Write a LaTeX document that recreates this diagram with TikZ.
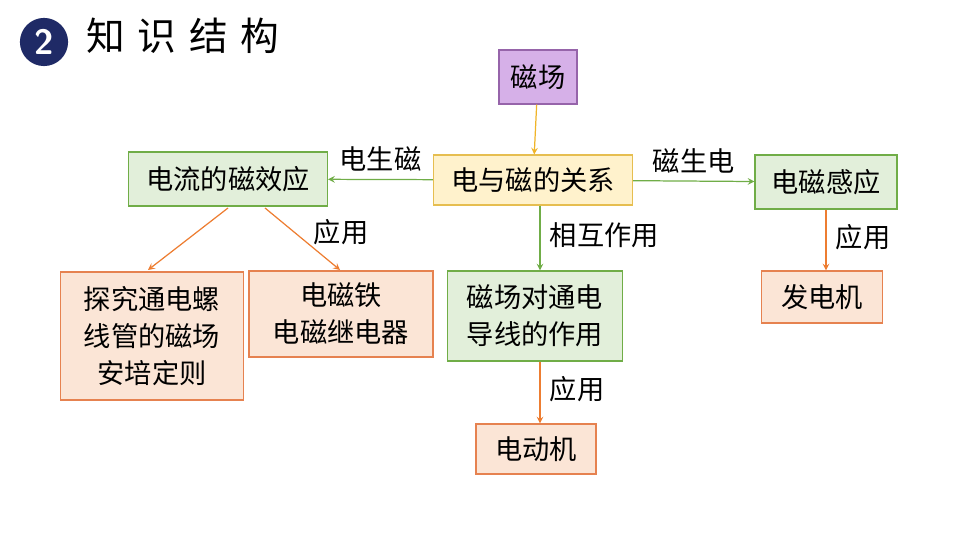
\documentclass[tikz,border=0pt]{standalone}
\usepackage{fontspec}
\setmainfont{Liberation Sans}
\newfontfamily\cjk{Noto Sans CJK SC}
\begin{document}
\begin{tikzpicture}[x=0.02cm,y=-0.02cm,font=\cjk\fontsize{15.5}{21}\selectfont,
 bx/.style={draw,line width=0.6pt,minimum height=1cm,inner sep=3pt,align=center},
 pur/.style={bx,draw={rgb,255:red,150;green,100;blue,170},fill={rgb,255:red,214;green,176;blue,232}},
 yel/.style={bx,fill={rgb,255:red,255;green,242;blue,204},draw={rgb,255:red,230;green,190;blue,80}},
 grn/.style={bx,fill={rgb,255:red,226;green,239;blue,218},draw={rgb,255:red,112;green,173;blue,71}},
 org/.style={bx,fill={rgb,255:red,251;green,229;blue,214},draw={rgb,255:red,230;green,130;blue,80}},
 ga/.style={draw={rgb,255:red,112;green,173;blue,71},line width=0.7pt,-stealth},
 oa/.style={draw={rgb,255:red,237;green,125;blue,49},line width=0.7pt,-stealth},
 ya/.style={draw={rgb,255:red,240;green,180;blue,40},line width=0.7pt,-stealth}]
\useasboundingbox (0,0) rectangle (960,540);
\node[circle,fill={rgb,255:red,31;green,42;blue,102},minimum size=0.8cm,text=white,font=\sffamily\bfseries\fontsize{20}{20}\selectfont] (num) at (44,42) {2};
\node[anchor=west,font=\cjk\fontsize{22}{24}\selectfont] (title) at (80,36) {知\,\,识\,\,结\,\,构};
\node[pur,minimum width=78*0.02cm,minimum height=54*0.02cm] (cc) at (538,77) {磁场};
\node[yel,minimum width=199*0.02cm,minimum height=50*0.02cm] (gx) at (533,180) {电与磁的关系};
\node[grn,minimum width=199*0.02cm,minimum height=54*0.02cm] (dl) at (228,179) {电流的磁效应};
\node[grn,minimum width=142*0.02cm,minimum height=54*0.02cm] (gy) at (826,182) {电磁感应};
\node[org,minimum width=183*0.02cm,minimum height=128*0.02cm] (tj) at (152,336) {探究通电螺\\线管的磁场\\安培定则};
\node[org,minimum width=184*0.02cm,minimum height=86*0.02cm] (dct) at (341,314) {电磁铁\\电磁继电器};
\node[grn,minimum width=175*0.02cm,minimum height=90*0.02cm] (zy) at (535,316) {磁场对通电\\导线的作用};
\node[org,minimum width=120*0.02cm,minimum height=50*0.02cm] (ddj) at (536,449) {电动机};
\node[org,minimum width=121*0.02cm,minimum height=52*0.02cm] (fdj) at (822,297) {发电机};
\draw[ya] (cc) -- (gx);
\draw[ga] (gx) -- (dl) node[pos=0.5,above=1pt] (l1) {电生磁};
\draw[ga] (gx) -- (gy) node[pos=0.5,above=1pt] (l2) {磁生电};
\draw[ga] (gx.south) ++(7,0) coordinate (gs) -- (gs|-zy.north) node[pos=0.45,right=2pt] (l3) {相互作用};
\draw[oa] (228,208) coordinate (a1) -- (148,270) coordinate (b1);
\draw[oa] (265,208) coordinate (a2) -- (340,270) coordinate (b2);
\node (l4) at (341,232) {应用};
\draw[oa] (gy) -- (gy|-fdj.north) node[pos=0.45,right=2pt] (l5) {应用};
\draw[oa] (zy.south) ++(5,0) coordinate (zs) -- (zs|-ddj.north) node[pos=0.45,right=2pt] (l6) {应用};
\end{tikzpicture}
\end{document}
